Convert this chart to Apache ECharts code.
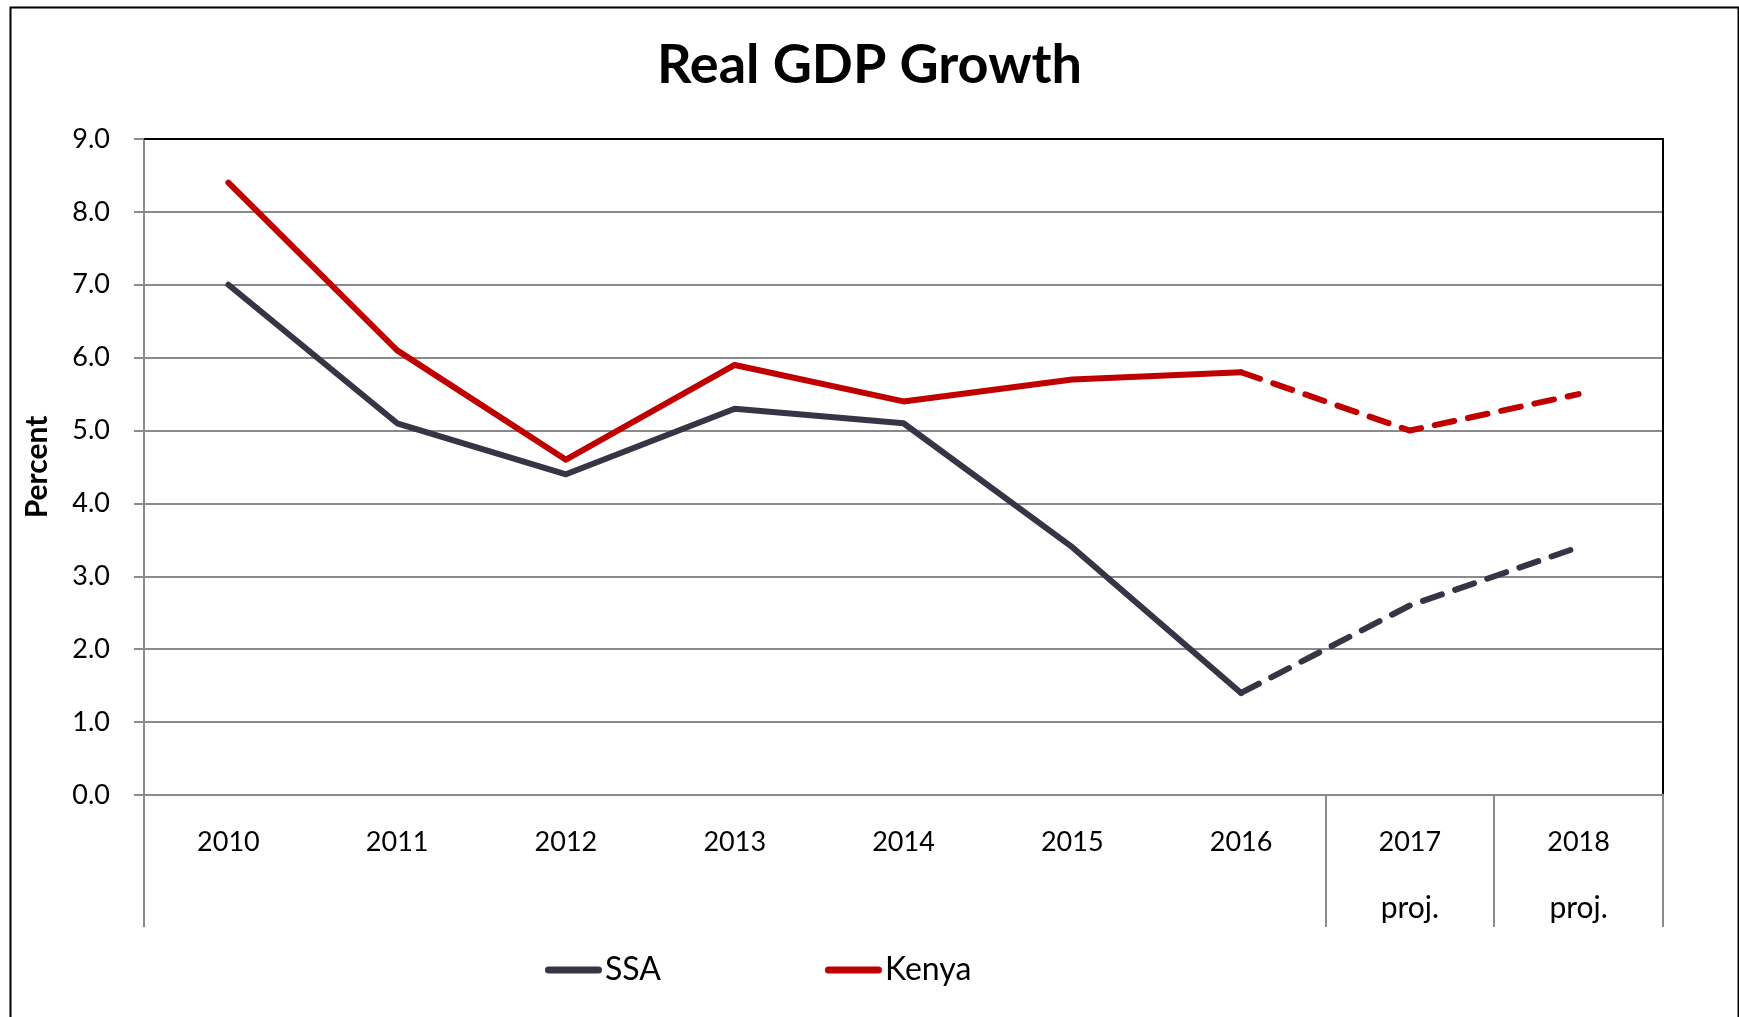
<!DOCTYPE html>
<html>
<head>
<meta charset="utf-8">
<title>Real GDP Growth</title>
<script src="https://cdn.jsdelivr.net/npm/echarts@6/dist/echarts.min.js"></script>
<style>
  html, body { margin: 0; padding: 0; background: #fff; }
  #chart { width: 1739px; height: 1017px; }
</style>
</head>
<body>
<div id="chart"></div>
<script>
// Years on the category axis; projected years carry a second label line
const years = ['2010', '2011', '2012', '2013', '2014', '2015', '2016', '2017', '2018'];
const projected = [false, false, false, false, false, false, false, true, true];

// Real GDP growth, percent
const ssa   = [7.0, 5.1, 4.4, 5.3, 5.1, 3.4, 1.4, 2.6, 3.4];
const kenya = [8.4, 6.1, 4.6, 5.9, 5.4, 5.7, 5.8, 5.0, 5.5];

// Y axis ticks
const yMin = 0, yMax = 9, yStep = 1;

const FONT = 'Lato, "Open Sans", sans-serif';
const SSA_COLOR = '#363445';
const KENYA_COLOR = '#c00000';
const GRID_GRAY = '#8a8a8a';

const categories = years.map((y, i) => projected[i] ? '{y|' + y + '}\n{p|proj.}' : '{y|' + y + '}');
const lastActual = projected.indexOf(true) - 1;

// Split a series into the actual (solid) and projected (dashed) parts
function actualPart(arr) {
  return arr.map((v, i) => i <= lastActual ? v : null);
}
function projectedPart(arr) {
  return arr.map((v, i) => i >= lastActual ? v : null);
}

function lineSeries(name, color, data, dashed) {
  return {
    name: name,
    type: 'line',
    data: data,
    symbol: 'none',
    connectNulls: false,
    lineStyle: {
      color: color,
      width: 6,
      type: dashed ? [20, 14] : 'solid',
      cap: 'round',
      join: 'round'
    },
    itemStyle: { color: color },
    emphasis: { disabled: true },
    z: dashed ? 3 : 4
  };
}

const chart = echarts.init(document.getElementById('chart'), null, { renderer: 'canvas' });

chart.setOption({
  backgroundColor: '#ffffff',
  animation: false,
  title: {
    text: 'Real GDP Growth',
    left: 'center',
    top: 34,
    textStyle: { fontFamily: FONT, fontSize: 54, fontWeight: 'bold', color: '#000' }
  },
  legend: {
    data: ['SSA', 'Kenya'],
    left: 540,
    top: 949,
    itemWidth: 57,
    itemHeight: 7,
    itemGap: 164,
    icon: 'path://M3.5,0 L53.5,0 A3.5,3.5 0 0 1 53.5,7 L3.5,7 A3.5,3.5 0 0 1 3.5,0 Z',
    textStyle: { fontFamily: FONT, fontSize: 32, color: '#000', padding: [0, 0, 0, -2] }
  },
  grid: {
    left: 144,
    right: 76,
    top: 139,
    bottom: 222,
    containLabel: false
  },
  xAxis: [
    {
      type: 'category',
      data: categories,
      boundaryGap: true,
      axisLine: { show: true, lineStyle: { color: GRID_GRAY, width: 2 } },
      axisTick: {
        show: true,
        length: 132,
        interval: function (idx) { return idx === 0 || projected[idx]; },
        lineStyle: { color: GRID_GRAY, width: 2 }
      },
      axisLabel: {
        color: '#000',
        margin: 14,
        interval: 0,
        rich: {
          y: { fontFamily: FONT, fontSize: 27, lineHeight: 66, color: '#000' },
          p: { fontFamily: FONT, fontSize: 30, lineHeight: 66, color: '#000' }
        }
      },
      splitLine: { show: false }
    },
    {
      // top border of the plot area
      type: 'category',
      data: categories,
      position: 'top',
      axisLine: { show: true, onZero: false, lineStyle: { color: '#000', width: 2 } },
      axisTick: { show: false },
      axisLabel: { show: false },
      splitLine: { show: false }
    }
  ],
  yAxis: [
    {
      type: 'value',
      min: yMin,
      max: yMax,
      interval: yStep,
      name: 'Percent',
      nameLocation: 'middle',
      nameRotate: 90,
      nameGap: 92,
      nameTextStyle: { fontFamily: FONT, fontSize: 30, fontWeight: 'bold', color: '#000' },
      axisLine: { show: true, lineStyle: { color: GRID_GRAY, width: 2 } },
      axisTick: { show: true, inside: false, length: 10, lineStyle: { color: GRID_GRAY, width: 2 } },
      axisLabel: {
        fontFamily: FONT,
        fontSize: 27,
        color: '#000',
        margin: 34,
        formatter: v => v.toFixed(1)
      },
      splitLine: { show: true, lineStyle: { color: GRID_GRAY, width: 2 } }
    },
    {
      // right border of the plot area
      type: 'value',
      min: yMin,
      max: yMax,
      interval: yStep,
      position: 'right',
      axisLine: { show: true, onZero: false, lineStyle: { color: '#000', width: 2 } },
      axisTick: { show: false },
      axisLabel: { show: false },
      splitLine: { show: false }
    }
  ],
  series: [
    lineSeries('SSA', SSA_COLOR, actualPart(ssa), false),
    lineSeries('SSA', SSA_COLOR, projectedPart(ssa), true),
    lineSeries('Kenya', KENYA_COLOR, actualPart(kenya), false),
    lineSeries('Kenya', KENYA_COLOR, projectedPart(kenya), true)
  ],
  graphic: [
    {
      // outer chart frame
      type: 'rect',
      left: 8,
      top: 5,
      shape: { width: 1728, height: 1040 },
      style: { fill: 'none', stroke: '#000', lineWidth: 2 },
      silent: true
    }
  ]
});
</script>
</body>
</html>
